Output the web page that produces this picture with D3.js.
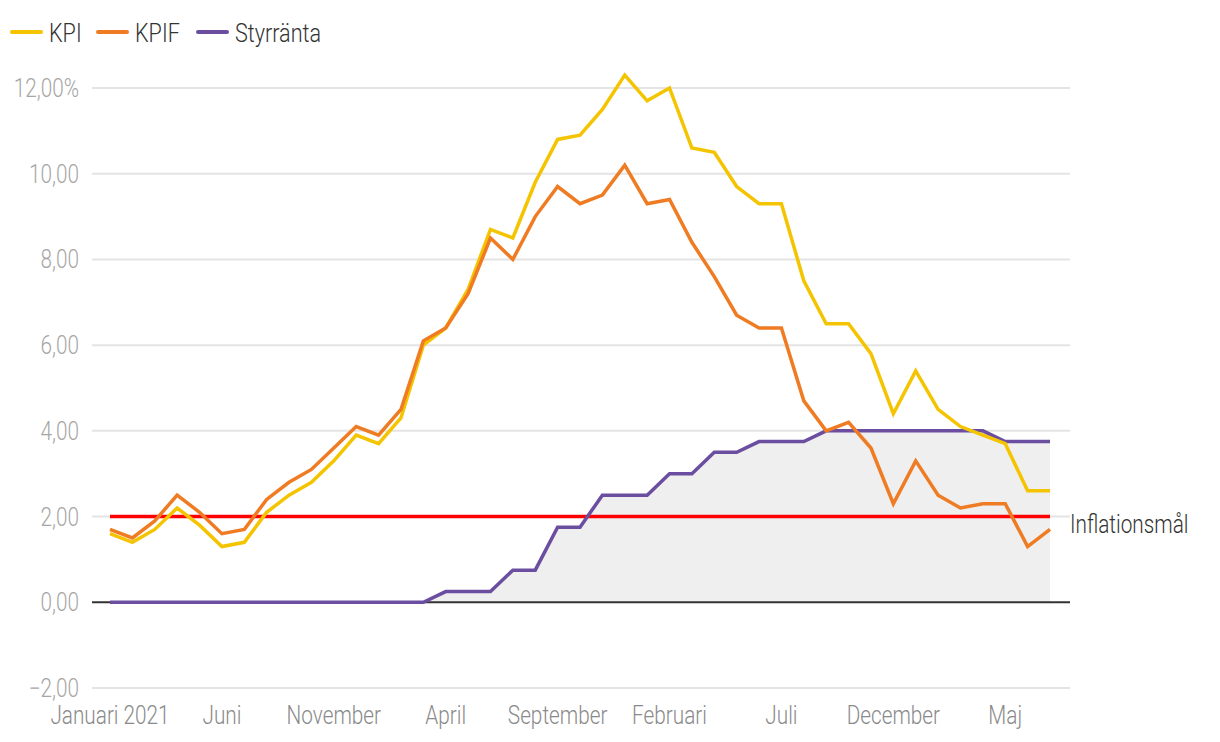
<!DOCTYPE html>
<html><head><meta charset="utf-8">
<script src="https://cdn.jsdelivr.net/npm/d3@7"></script>
<style>
body{margin:0;background:#fff;}
svg text{font-family:"Roboto",sans-serif;font-weight:300;}
</style></head>
<body><svg id="c" width="1220" height="742"></svg>
<script>
const months = ["jan","feb","mar","apr","maj","jun","jul","aug","sep","okt","nov","dec"];
const periods = [];
for (let y = 2021; y <= 2024; y++) for (let m = 0; m < 12; m++) { if (y === 2024 && m > 6) break; periods.push(months[m] + " " + y); }

const kpi = [1.6,1.4,1.7,2.2,1.8,1.3,1.4,2.1,2.5,2.8,3.3,3.9,
             3.7,4.3,6.0,6.4,7.3,8.7,8.5,9.8,10.8,10.9,11.5,12.3,
             11.7,12.0,10.6,10.5,9.7,9.3,9.3,7.5,6.5,6.5,5.8,4.4,
             5.4,4.5,4.1,3.9,3.7,2.6,2.6];
const kpif = [1.7,1.5,1.9,2.5,2.1,1.6,1.7,2.4,2.8,3.1,3.6,4.1,
              3.9,4.5,6.1,6.4,7.2,8.5,8.0,9.0,9.7,9.3,9.5,10.2,
              9.3,9.4,8.4,7.6,6.7,6.4,6.4,4.7,4.0,4.2,3.6,2.3,
              3.3,2.5,2.2,2.3,2.3,1.3,1.7];
const styrranta = [0,0,0,0,0,0,0,0,0,0,0,0,
                   0,0,0,0.25,0.25,0.25,0.75,0.75,1.75,1.75,2.5,2.5,
                   2.5,3.0,3.0,3.5,3.5,3.75,3.75,3.75,4.0,4.0,4.0,4.0,
                   4.0,4.0,4.0,4.0,3.75,3.75,3.75];
const inflationTarget = 2;
const tickIndex = [0,5,10,15,20,25,30,35,40];
const tickLabels = ["Januari 2021","Juni","November","April","September","Februari","Juli","December","Maj"];
const yTicks = [-2,0,2,4,6,8,10,12];
const seriesNames = ["KPI","KPIF","Styrränta"];
const colors = {"KPI":"#f5c400","KPIF":"#ef7b22","Styrränta":"#6b4ea0"};

const svg = d3.select("#c");
const x = d3.scaleLinear().domain([0, periods.length - 1]).range([110, 1050]);
const y = d3.scaleLinear().domain([-2, 12]).range([688, 88]);
const gridL = 92, gridR = 1070;
const SX = 0.83;

function label(parent, px, py, str, size, fill, anchor) {
  return parent.append("text")
    .attr("transform", `translate(${px},${py}) scale(${SX},1)`)
    .attr("text-anchor", anchor || "start")
    .attr("font-size", size).attr("fill", fill).text(str);
}

// grid
svg.append("g").selectAll("line").data(yTicks.filter(d => d !== 0)).join("line")
  .attr("x1", gridL).attr("x2", gridR).attr("y1", d => y(d)).attr("y2", d => y(d))
  .attr("stroke", "#e4e4e4").attr("stroke-width", 2);

// y labels
const fmt = d => (d < 0 ? "\u2212" : "") + Math.abs(d).toFixed(2).replace(".", ",") + (d === 12 ? "%" : "");
const yl = svg.append("g");
yTicks.forEach(d => label(yl, 79, y(d) + 9, fmt(d), 25, "#a6a6a6", "end"));

// area under styrränta
svg.append("path").datum(styrranta)
  .attr("d", d3.area().x((d, i) => x(i)).y0(y(0)).y1(d => y(d)))
  .attr("fill", "#efefef");

// zero line
svg.append("line").attr("x1", gridL).attr("x2", gridR).attr("y1", y(0)).attr("y2", y(0))
  .attr("stroke", "#333").attr("stroke-width", 2);

// inflation target
svg.append("line").attr("x1", x(0)).attr("x2", x(periods.length - 1))
  .attr("y1", y(inflationTarget)).attr("y2", y(inflationTarget))
  .attr("stroke", "#ff0000").attr("stroke-width", 3.5);
label(svg, 1070, y(inflationTarget) + 16, "Inflationsmål", 25, "#333");

const line = d3.line().x((d, i) => x(i)).y(d => y(d));
[["Styrränta", styrranta], ["KPI", kpi], ["KPIF", kpif]].forEach(([n, data]) => {
  svg.append("path").datum(data).attr("d", line).attr("fill", "none")
    .attr("stroke", colors[n]).attr("stroke-width", 3.5).attr("stroke-linejoin", "miter");
});

// x labels
const xl = svg.append("g");
tickIndex.forEach((d, i) => label(xl, x(d), 724, tickLabels[i], 25, "#8a8a8a", "middle"));

// legend
const legX = [12, 98, 198];
const lg = svg.append("g");
seriesNames.forEach((n, i) => {
  lg.append("line").attr("x1", legX[i]).attr("x2", legX[i] + 29).attr("y1", 32).attr("y2", 32)
    .attr("stroke", colors[n]).attr("stroke-width", 4).attr("stroke-linecap", "round");
  label(lg, legX[i] + 37, 42, n, 26, "#333");
});
</script></body></html>
